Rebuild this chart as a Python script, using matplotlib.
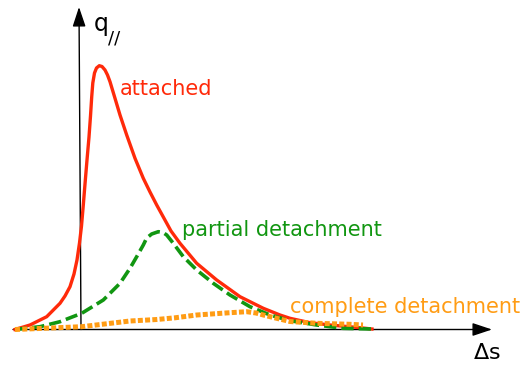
import matplotlib.pyplot as plt

# heat flux profiles along the target, arbitrary units (s: distance, q: parallel heat flux)
s_attached = [-0.65, -0.50, -0.333, -0.20, -0.15, -0.10, -0.06, -0.03, -0.005, 0.015,
              0.033, 0.05, 0.07, 0.09, 0.105, 0.117, 0.128, 0.145, 0.165, 0.193, 0.22,
              0.25, 0.275, 0.30, 0.35, 0.40, 0.467, 0.55, 0.633, 0.70, 0.767, 0.833,
              0.91, 1.00, 1.167, 1.367, 1.60, 1.833, 2.00, 2.10, 2.30, 2.50, 2.80, 2.92]
q_attached = [0.00, 0.045, 0.128, 0.262, 0.335, 0.428, 0.555, 0.695, 0.865, 1.035,
              1.245, 1.455, 1.695, 1.925, 2.135, 2.325, 2.465, 2.565, 2.615, 2.638, 2.63,
              2.595, 2.545, 2.478, 2.312, 2.145, 1.945, 1.712, 1.512, 1.375, 1.245, 1.125,
              0.985, 0.862, 0.662, 0.495, 0.328, 0.212, 0.145, 0.112, 0.068, 0.045, 0.018,
              0.005]

s_partial = [-0.65, -0.40, -0.20, 0.017, 0.233, 0.40, 0.50, 0.567, 0.633, 0.667, 0.717,
             0.783, 0.83, 0.867, 0.933, 1.033, 1.167, 1.333, 1.50, 1.70, 1.90, 2.10,
             2.367, 2.63, 2.92]
q_partial = [0.00, 0.028, 0.078, 0.162, 0.295, 0.462, 0.612, 0.728, 0.845, 0.915, 0.955,
             0.978, 0.97, 0.945, 0.862, 0.728, 0.595, 0.462, 0.345, 0.228, 0.145, 0.088,
             0.045, 0.012, 0.005]

s_complete = [-0.65, 0.017, 0.50, 0.767, 0.95, 1.167, 1.50, 1.667, 1.76, 1.833, 1.967,
              2.10, 2.367, 2.70, 2.83]
q_complete = [0.00, 0.028, 0.085, 0.10, 0.117, 0.145, 0.168, 0.178, 0.165, 0.145, 0.112,
              0.08, 0.062, 0.052, 0.045]

RED = '#ff2a0a'
GREEN = '#119611'
ORANGE = '#ff9c14'

fig = plt.figure(figsize=(5.22, 3.65), dpi=100)
ax = fig.add_axes([0, 0, 1, 1])
# 1 unit = 100 px, origin of the axes at pixel (80, 329.5)
ax.set_xlim(-0.80, 4.42)
ax.set_ylim(-0.355, 3.295)
ax.axis('off')

# axes with arrow heads
arrow = dict(arrowstyle='-|>,head_length=0.6,head_width=0.2', mutation_scale=20,
             lw=1.0, color='black', shrinkA=0, shrinkB=0)
ax.annotate('', xy=(4.12, 0), xytext=(-0.67, 0), arrowprops=arrow, zorder=1)
ax.annotate('', xy=(-0.01, 3.225), xytext=(0.01, 0), arrowprops=arrow, zorder=1)

ax.plot(s_attached, q_attached, color=RED, lw=2.4, zorder=2,
        solid_joinstyle='round')
ax.plot(s_partial, q_partial, color=GREEN, lw=2.6, dashes=(3.4, 1.4), zorder=3,
        dash_joinstyle='round')
ax.plot(s_complete, q_complete, color=ORANGE, lw=3.6, dashes=(1.0, 0.45),
        dash_capstyle='butt', zorder=4)

ax.text(0.40, 2.345, 'attached', color=RED, fontsize=15, va='baseline', ha='left')
ax.text(1.02, 0.935, 'partial detachment', color=GREEN, fontsize=15, va='baseline', ha='left')
ax.text(2.10, 0.162, 'complete detachment', color=ORANGE, fontsize=15, va='baseline', ha='left')
ax.text(3.93, -0.295, r'$\Delta$s', color='black', fontsize=16, va='baseline', ha='left')
ax.text(0.14, 2.985, 'q', color='black', fontsize=17, va='baseline', ha='left')
ax.text(0.28, 2.86, '//', color='black', fontsize=13, va='baseline', ha='left')

fig.savefig('out.png', dpi=100)
